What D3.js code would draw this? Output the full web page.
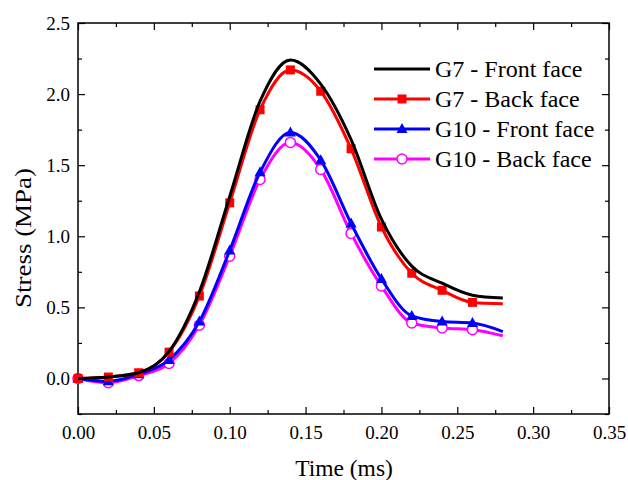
<!DOCTYPE html>
<html>
<head>
<meta charset="utf-8">
<style>
  body { margin: 0; background: #fff; }
  svg text { font-family: "Liberation Serif", "Times New Roman", serif; fill: #000; }
  .axis path { display: none; }
  .axis line { stroke: #000; stroke-width: 1.2px; }
</style>
</head>
<body>
<div id="chart"></div>
<script src="https://d3js.org/d3.v7.min.js"></script>
<script>
// data
const time = [0, 0.02, 0.04, 0.06, 0.08, 0.10, 0.12, 0.14, 0.16, 0.18, 0.20, 0.22, 0.24, 0.26, 0.28];
const g7Front  = [0.00, 0.01, 0.04, 0.19, 0.61, 1.28, 1.95, 2.24, 2.07, 1.68, 1.12, 0.79, 0.67, 0.585, 0.565];
const g7Back   = [0.00, 0.01, 0.04, 0.185, 0.58, 1.235, 1.89, 2.17, 2.02, 1.615, 1.065, 0.74, 0.62, 0.535, 0.526];
const g10Front = [0.00, -0.02, 0.03, 0.13, 0.40, 0.90, 1.45, 1.73, 1.535, 1.09, 0.70, 0.44, 0.40, 0.39, 0.33];
const g10Back  = [0.00, -0.03, 0.02, 0.105, 0.375, 0.86, 1.40, 1.66, 1.47, 1.02, 0.65, 0.39, 0.355, 0.343, 0.30];

const seriesNames = ["G7 - Front face", "G7 - Back face", "G10 - Front face", "G10 - Back face"];
const seriesValues = [g7Front, g7Back, g10Front, g10Back];
const colors = ["#000000", "#ff0000", "#0000ff", "#ff00ff"];
const markers = ["none", "square", "triangle", "circle"];

const xTicks = [0, 0.05, 0.10, 0.15, 0.20, 0.25, 0.30, 0.35];
const yTicks = [0, 0.5, 1.0, 1.5, 2.0, 2.5];

const width = 628, height = 480;
const margin = { left: 78, right: 19, top: 23, bottom: 66 };

const svg = d3.select("#chart").append("svg")
  .attr("width", width)
  .attr("height", height);

const x = d3.scaleLinear().domain([0, 0.35]).range([margin.left, width - margin.right]);
const y = d3.scaleLinear().domain([-0.25, 2.5]).range([height - margin.bottom, margin.top]);

const minorX = [0.025, 0.075, 0.125, 0.175, 0.225, 0.275, 0.325];
const minorY = [-0.25, 0.25, 0.75, 1.25, 1.75, 2.25];

// axes: ticks point inward on all four sides
const axBottom = svg.append("g").attr("class", "axis")
  .attr("transform", `translate(0,${y(-0.25)})`);
axBottom.call(d3.axisBottom(x).tickValues(xTicks).tickSize(-7).tickPadding(12).tickFormat(d3.format(".2f")));
axBottom.append("g").call(d3.axisBottom(x).tickValues(minorX).tickSize(-4).tickFormat(""));

const axTop = svg.append("g").attr("class", "axis")
  .attr("transform", `translate(0,${y(2.5)})`);
axTop.call(d3.axisTop(x).tickValues(xTicks).tickSize(-7).tickFormat(""));
axTop.append("g").call(d3.axisTop(x).tickValues(minorX).tickSize(-4).tickFormat(""));

const axLeft = svg.append("g").attr("class", "axis")
  .attr("transform", `translate(${x(0)},0)`);
axLeft.call(d3.axisLeft(y).tickValues(yTicks).tickSize(-7).tickPadding(8).tickFormat(d3.format(".1f")));
axLeft.append("g").call(d3.axisLeft(y).tickValues(minorY).tickSize(-4).tickFormat(""));

const axRight = svg.append("g").attr("class", "axis")
  .attr("transform", `translate(${x(0.35)},0)`);
axRight.call(d3.axisRight(y).tickValues(yTicks).tickSize(-7).tickFormat(""));
axRight.append("g").call(d3.axisRight(y).tickValues(minorY).tickSize(-4).tickFormat(""));

svg.selectAll(".axis text").style("font-size", "19px");

// frame
svg.append("rect")
  .attr("x", x(0)).attr("y", y(2.5))
  .attr("width", x(0.35) - x(0)).attr("height", y(-0.25) - y(2.5))
  .attr("fill", "none").attr("stroke", "#000").attr("stroke-width", 1.5);

// axis titles
svg.append("text")
  .attr("x", 344).attr("y", 476)
  .attr("text-anchor", "middle").style("font-size", "23.5px")
  .text("Time (ms)");
svg.append("text")
  .attr("transform", "translate(31,238) rotate(-90)")
  .attr("text-anchor", "middle").style("font-size", "24px")
  .attr("textLength", 140).attr("lengthAdjust", "spacingAndGlyphs")
  .text("Stress (MPa)");

const line = d3.line()
  .x(d => x(d[0]))
  .y(d => y(d[1]))
  .curve(d3.curveMonotoneX);

function drawMarker(g, type, color, cx, cy) {
  if (type === "square") {
    g.append("rect").attr("x", cx - 4.5).attr("y", cy - 4.5).attr("width", 9).attr("height", 9)
      .attr("fill", color);
  } else if (type === "triangle") {
    g.append("path")
      .attr("d", `M${cx},${cy - 6}L${cx + 5.5},${cy + 4}L${cx - 5.5},${cy + 4}Z`)
      .attr("fill", color);
  } else if (type === "circle") {
    g.append("circle").attr("cx", cx).attr("cy", cy).attr("r", 5)
      .attr("fill", "#fff").attr("stroke", color).attr("stroke-width", 1.5);
  }
}

const plot = svg.append("g");
// draw in reverse so the black curve ends up on top, as in the reference
[3, 2, 1, 0].forEach(i => {
  const pts = time.map((t, k) => [t, seriesValues[i][k]]);
  const g = plot.append("g");
  g.append("path")
    .attr("d", line(pts))
    .attr("fill", "none")
    .attr("stroke", colors[i])
    .attr("stroke-width", 3);
  pts.slice(0, -1).forEach(p => drawMarker(g, markers[i], colors[i], x(p[0]), y(p[1])));
});

// legend
const legend = svg.append("g");
seriesNames.forEach((name, i) => {
  const ly = 69 + i * 30;
  const row = legend.append("g");
  row.append("line")
    .attr("x1", 374).attr("x2", 430).attr("y1", ly).attr("y2", ly)
    .attr("stroke", colors[i]).attr("stroke-width", 3);
  drawMarker(row, markers[i], colors[i], 402, ly);
  row.append("text")
    .attr("x", 435).attr("y", ly + 8)
    .style("font-size", "24px")
    .text(name);
});
</script>
</body>
</html>
